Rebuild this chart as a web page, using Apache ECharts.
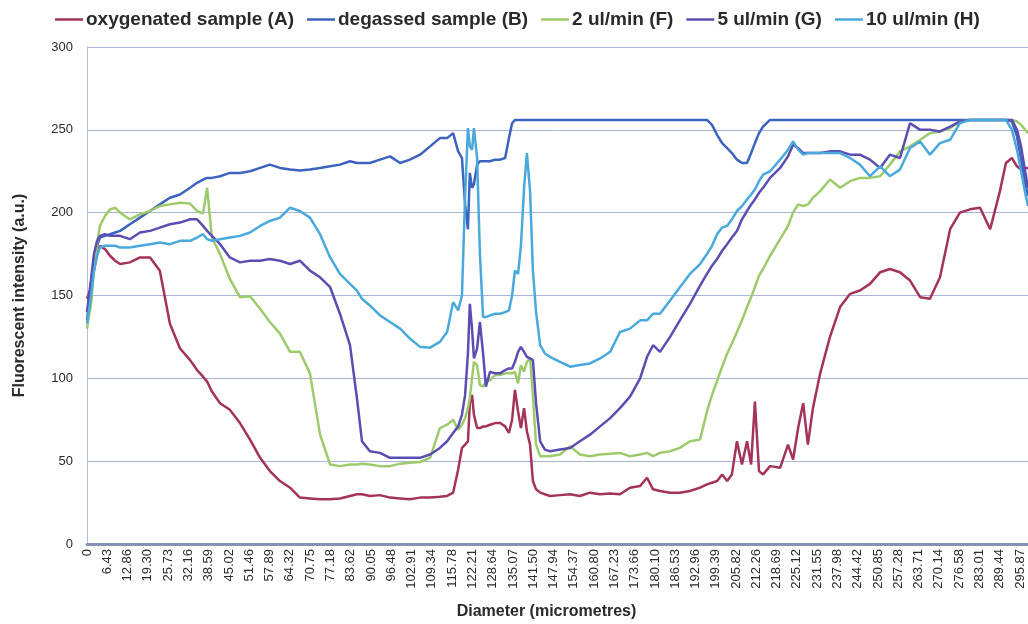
<!DOCTYPE html>
<html>
<head>
<meta charset="utf-8">
<title>Fluorescent intensity</title>
<script src="https://cdn.jsdelivr.net/npm/echarts@6/dist/echarts.min.js"></script>
<style>
  html, body { margin: 0; padding: 0; background: #fff; }
  #chart { width: 1028px; height: 624px; }
</style>
</head>
<body>
<div id="chart"></div>
<script>
// diameter (micrometres) of each sample point
const diameter = [
  0, 1.3, 2.2, 3.2, 4.1, 5.7, 7.3, 8.9, 10.5, 13.6,
  16.8, 20.0, 23.1, 26.3, 29.5, 32.7, 34.9, 36.8, 38.1, 39.6,
  42.2, 45.3, 48.5, 51.7, 54.9, 58.0, 61.2, 64.4, 67.5, 70.7,
  73.9, 77.1, 80.2, 83.4, 85.6, 87.2, 89.7, 92.9, 96.1, 99.3,
  102.4, 105.6, 108.8, 111.9, 114.2, 116.1, 117.7, 118.9, 119.9, 120.8,
  121.4, 122.1, 122.7, 123.7, 124.6, 125.6, 126.5, 127.8, 129.4, 131.0,
  132.6, 133.8, 134.8, 135.7, 136.7, 137.6, 138.6, 139.5, 140.5, 141.4,
  142.4, 143.7, 145.2, 146.8, 150.0, 153.2, 156.3, 159.5, 162.7, 165.9,
  169.0, 172.2, 175.4, 177.6, 179.5, 181.7, 184.9, 188.0, 191.2, 194.4,
  196.6, 198.2, 199.8, 201.4, 203.0, 204.5, 206.1, 207.7, 209.3, 210.6,
  211.8, 213.1, 214.4, 216.6, 219.8, 222.3, 223.9, 225.5, 227.1, 228.6,
  230.2, 232.5, 235.6, 238.8, 242.0, 245.1, 248.3, 251.5, 254.6, 257.8,
  261.0, 264.2, 267.3, 270.5, 273.7, 276.8, 280.0, 283.2, 286.4, 289.5,
  291.4, 293.3, 294.9, 296.2, 297.5, 298.4
]

const oxygenatedA = [
  148, 155, 165, 175, 180, 178, 174, 171, 169, 170,
  173, 173, 165, 133, 118, 111, 105, 101, 98, 92,
  85, 81, 73, 63, 52, 44, 38, 34, 28, 27.5,
  27, 27, 27.5, 29, 30, 30, 29, 29.5, 28, 27.5,
  27, 28, 28, 28.5, 29, 31, 45, 58, 60, 62,
  85, 90, 78, 70, 70, 71, 71, 72, 73, 73,
  71, 67, 75, 93, 80, 70, 82, 68, 60, 38,
  33, 31, 30, 29, 29.5, 30, 29, 31, 30, 30.5,
  30, 34, 35, 40, 33, 32, 31, 31, 32, 34,
  36, 37, 38, 42, 38, 42, 62, 48, 62, 48,
  86, 44, 42, 47, 46, 60, 51, 70, 85, 60,
  82, 103, 125, 143, 151, 153, 157, 164, 166, 164,
  159, 149, 148, 161, 190, 200, 202, 203, 190, 213,
  230, 233, 228, 226, 227, 227
]

const degassedB = [
  135, 158, 172, 180, 185, 186, 187, 188, 189, 193,
  197, 201, 205, 209, 211, 215, 218, 220, 221, 221,
  222, 224, 224, 225, 227, 229, 227, 226, 225.5, 226,
  227, 228, 229, 231, 230, 230, 230, 232, 234, 230,
  232, 235, 240, 245, 245, 248, 237, 233, 205, 190,
  224, 215, 217, 229, 231, 231, 231, 231, 232, 232,
  233, 245, 254, 256, 256, 256, 256, 256, 256, 256,
  256, 256, 256, 256, 256, 256, 256, 256, 256, 256,
  256, 256, 256, 256, 256, 256, 256, 256, 256, 256,
  256, 253, 247, 242, 239, 236, 232, 230, 230, 236,
  242, 248, 252, 256, 256, 256, 256, 256, 256, 256,
  256, 256, 256, 256, 256, 256, 256, 256, 256, 256,
  256, 256, 256, 256, 256, 256, 256, 256, 256, 256,
  256, 255, 246, 232, 218, 210
]

const flow2F = [
  130, 145, 165, 182, 192, 198, 202, 203, 200, 196,
  199, 201, 204, 205, 206, 205.5, 201, 199.5, 215, 185,
  175, 160, 149, 149.5, 142, 134, 127, 116, 116, 103,
  66, 48, 47, 48, 48, 48.5, 48, 47, 47, 48.5,
  49, 49.5, 52, 70, 72, 75, 69, 72, 76, 82,
  88, 100, 110, 108, 96, 95, 98, 99, 102, 102,
  103, 103, 103, 104, 97, 108, 104, 110, 112, 90,
  60, 53, 53, 53, 54, 59, 54, 53, 54, 54.5,
  55, 53, 54, 55, 53, 55, 56, 58, 62, 63,
  80, 90, 98.5, 107, 115, 121, 128, 135, 143, 149,
  155, 162, 166, 174, 184, 192, 200, 205, 204, 205,
  209, 213, 220, 215, 219, 221, 221, 222, 229, 237,
  240, 244, 248, 249, 251, 255, 256, 256, 256, 256,
  256, 256, 255, 253, 250, 248
]

const flow5G = [
  140, 160, 175, 183, 186, 187, 186, 186, 186, 184,
  188, 189, 191, 193, 194, 196, 196, 192, 189, 186,
  181, 173, 170, 171, 171, 172, 171, 169, 171, 165,
  161, 155, 139, 120, 88, 62, 56, 55, 52, 52,
  52, 52, 54, 58, 62, 67, 71, 78, 90, 115,
  145, 130, 112, 118, 134, 115, 95, 104, 103, 103,
  105, 106, 106, 110, 116, 119, 116, 113, 112, 111,
  85, 62, 57, 56, 57, 58, 62, 66, 71, 76,
  82, 89, 100, 113, 120, 116, 125, 135, 145, 156,
  163, 168, 172, 177, 181, 185, 189, 196, 201, 205,
  208, 212, 215, 221, 227, 234, 241, 239, 236, 236,
  236, 236, 237, 237, 235, 235, 232, 227, 235, 233,
  254, 250, 250, 249, 252, 255, 256, 256, 256, 256,
  256, 256, 250, 240, 225, 215
]

const flow10H = [
  133, 150, 165, 174, 179, 180, 180, 180, 179, 179,
  180, 181, 182, 181, 183, 183, 185, 187, 184, 183,
  184, 185, 186, 188, 192, 195, 197, 203, 201, 197,
  187, 173, 163, 157, 153, 148, 144, 138, 134, 130,
  124, 119, 118.5, 122, 128, 146, 141, 150, 210, 251,
  240, 238, 251, 233, 175, 137, 137, 138, 139, 139,
  140, 141, 150, 165, 163, 180, 215, 236, 213, 165,
  140, 120, 115, 113, 110, 107, 108, 109, 112, 116,
  128, 130, 135, 135, 139, 139, 147, 155, 163, 169,
  175, 180, 187, 191, 192, 196, 201, 204, 208, 211,
  214, 219, 223, 225, 232, 238, 243, 238, 235, 236,
  236, 236, 236, 236, 233, 229, 222, 228, 222, 226,
  239, 243, 235, 242, 244, 254, 256, 256, 256, 256,
  256, 250, 238, 225, 212, 204
]

const seriesNames = ['oxygenated sample (A)', 'degassed sample (B)', '2 ul/min (F)', '5 ul/min (G)', '10 ul/min (H)']
const seriesColors = ['#a3335a', '#3c63bd', '#9dcb6c', '#5a4eb3', '#4aa9dc']

const xTickStep = 6.432
const xTickLabels = [
  '0', '6.43', '12.86', '19.30', '25.73', '32.16', '38.59', '45.02', '51.46', '57.89',
  '64.32', '70.75', '77.18', '83.62', '90.05', '96.48', '102.91', '109.34', '115.78', '122.21',
  '128.64', '135.07', '141.50', '147.94', '154.37', '160.80', '167.23', '173.66', '180.10', '186.53',
  '192.96', '199.39', '205.82', '212.26', '218.69', '225.12', '231.55', '237.98', '244.42', '250.85',
  '257.28', '263.71', '270.14', '276.58', '283.01', '289.44', '295.87'
]

const font = 'Liberation Sans, Arial, sans-serif'
const chart = echarts.init(document.getElementById('chart'))

const allY = [oxygenatedA, degassedB, flow2F, flow5G, flow10H]
const series = allY.map((ys, i) => {
  return {
    name: seriesNames[i],
    type: 'line',
    showSymbol: false,
    animation: false,
    data: ys.map((y, k) => [diameter[k], y]),
    lineStyle: { color: seriesColors[i], width: 2.5 },
    itemStyle: { color: seriesColors[i] }
  }
})

const option = {
  backgroundColor: '#fff',
  textStyle: { fontFamily: font },
  legend: {
    left: 50,
    top: 5,
    icon: 'rect',
    itemWidth: 28,
    itemHeight: 2.5,
    itemGap: 13,
    textStyle: { fontSize: 19, fontWeight: 'bold', color: '#2a2a2a', fontFamily: font, padding: [0, 0, 0, -2] },
    data: seriesNames
  },
  grid: { left: 87, right: 0, top: 47, bottom: 80, outerBoundsMode: 'none' },
  xAxis: {
    type: 'value',
    min: 0,
    max: 298.4,
    interval: xTickStep,
    name: 'Diameter (micrometres)',
    nameLocation: 'middle',
    nameGap: 60,
    nameTextStyle: { fontSize: 16, fontWeight: 'bold', color: '#2a2a2a', padding: [0, 22, 0, 0] },
    axisLine: { lineStyle: { color: '#8492ba', width: 3 } },
    axisTick: { show: false },
    splitLine: { show: false },
    axisLabel: {
      rotate: 90,
      margin: 5,
      fontSize: 13,
      color: '#2a2a2a',
      showMaxLabel: false,
      formatter: v => xTickLabels[Math.round(v / xTickStep)]
    }
  },
  yAxis: {
    type: 'value',
    min: 0,
    max: 300,
    interval: 50,
    name: 'Fluorescent intensity (a.u.)',
    nameLocation: 'middle',
    nameGap: 59,
    nameTextStyle: { fontSize: 16, fontWeight: 'bold', color: '#2a2a2a' },
    axisLine: { show: true, lineStyle: { color: '#b3bcdc', width: 1 } },
    axisTick: { show: false },
    axisLabel: { fontSize: 13, color: '#2a2a2a', margin: 14 },
    splitLine: { lineStyle: { color: '#aab4d8', width: 1 } }
  },
  series: series
}

chart.setOption(option)
</script>
</body>
</html>
